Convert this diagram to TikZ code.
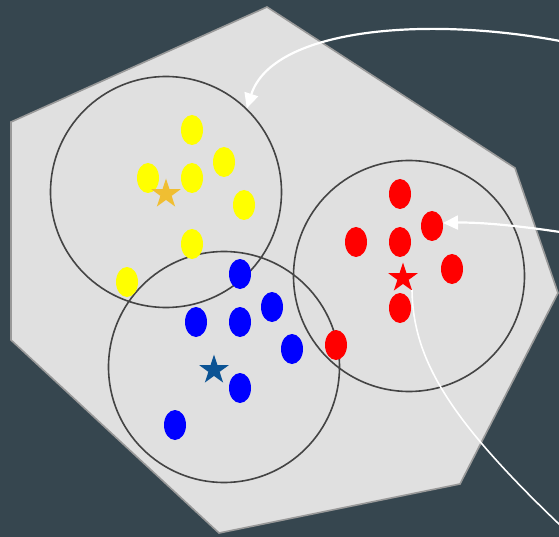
\documentclass[tikz,border=0pt]{standalone}
\usetikzlibrary{shapes.geometric,arrows.meta}
\definecolor{bgc}{HTML}{36464F}
\definecolor{hullfill}{HTML}{E0E0E0}
\definecolor{hulledge}{HTML}{999999}
\definecolor{ringc}{HTML}{444444}
\definecolor{ydot}{HTML}{FFFF00}
\definecolor{bdot}{HTML}{0000FF}
\definecolor{rdot}{HTML}{FF0000}
\definecolor{ystar}{HTML}{F0BE32}
\definecolor{bstar}{HTML}{0B5394}
\tikzset{
  ring/.style={circle,draw=ringc,line width=1.6pt,minimum size=231pt,inner sep=0pt},
  dot/.style={ellipse,fill=#1,draw=none,minimum width=22pt,minimum height=30pt,inner sep=0pt},
  centroid/.style={star,star points=5,star point ratio=2.618,fill=#1,draw=none,minimum size=31pt,inner sep=0pt},
  pointer/.style={draw=white,line width=2.2pt,-{Triangle[length=15pt,width=14pt]}},
  thinline/.style={draw=white,line width=1.6pt}
}
\begin{document}
\begin{tikzpicture}[x=1pt,y=-1pt]
\fill[bgc] (0,0) rectangle (559,537);
\useasboundingbox (0,0) rectangle (559,537);
\draw[fill=hullfill,draw=hulledge,line width=1.6pt,line join=miter]
  (11,122) -- (267,7) -- (515,168) -- (558,293) -- (460,484) -- (219,533) -- (11,340) -- cycle;
% rings
\node[ring] (yc) at (166,192) {};
\node[ring] (bc) at (224,367) {};
\node[ring] (rc) at (409,276) {};
% yellow points
\node[dot=ydot] (y1) at (192,130) {};
\node[dot=ydot] (y2) at (224,162) {};
\node[dot=ydot] (y3) at (148,178) {};
\node[dot=ydot] (y4) at (192,178) {};
\node[dot=ydot] (y5) at (244,205) {};
\node[dot=ydot] (y6) at (192,244) {};
\node[dot=ydot] (y7) at (127,282) {};
\node[centroid=ystar] (ys) at (166,194) {};
% blue points
\node[dot=bdot] (b1) at (240,274) {};
\node[dot=bdot] (b2) at (272,307) {};
\node[dot=bdot] (b3) at (196,322) {};
\node[dot=bdot] (b4) at (240,322) {};
\node[dot=bdot] (b5) at (292,349) {};
\node[dot=bdot] (b6) at (240,388) {};
\node[dot=bdot] (b7) at (175,425) {};
\node[centroid=bstar] (bs) at (214,370) {};
% red points
\node[dot=rdot] (r1) at (400,194) {};
\node[dot=rdot] (r2) at (432,226) {};
\node[dot=rdot] (r3) at (356,242) {};
\node[dot=rdot] (r4) at (400,242) {};
\node[dot=rdot] (r5) at (452,269) {};
\node[dot=rdot] (r6) at (400,308) {};
\node[dot=rdot] (r7) at (336,345) {};
\node[centroid=rdot] (rs) at (403,278) {};
% connectors
\coordinate (e1) at (560,41);
\coordinate (e2) at (560,232);
\coordinate (e3) at (560,525);
\coordinate (s3) at (412,290);
\draw[pointer] (e1) .. controls (420,15) and (272,30) .. (yc.46);
\draw[pointer] (e2) .. controls (520,226) and (480,222) .. (443,223);
\draw[thinline] (s3) .. controls (413,360) and (450,420) .. (e3);
\end{tikzpicture}
\end{document}
